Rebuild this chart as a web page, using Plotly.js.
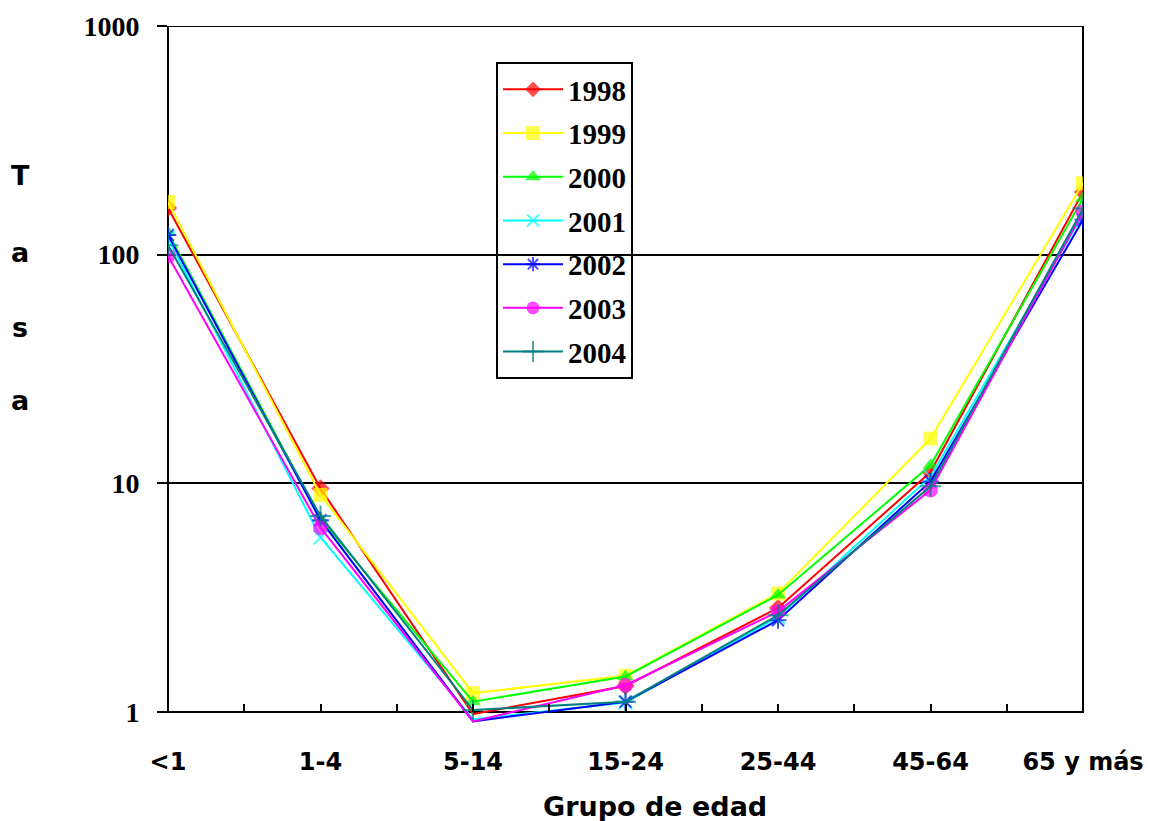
<!DOCTYPE html>
<html>
<head>
<meta charset="utf-8">
<script src="https://cdn.plot.ly/plotly-3.0.1.min.js"></script>
<style>html,body{margin:0;padding:0;background:#fff;}#chart{width:1164px;height:821px;}</style>
</head>
<body>
<div id="chart"></div>
<script>
// ---- data ----
const categories = ['<1', '1-4', '5-14', '15-24', '25-44', '45-64', '65 y más'];
const years = ['1998', '1999', '2000', '2001', '2002', '2003', '2004'];
const y1998 = [160, 9.5, 0.98, 1.30, 2.85, 11.2, 188];
const y1999 = [170, 8.9, 1.21, 1.44, 3.30, 15.7, 205];
const y2000 = [125, 7.0, 1.11, 1.43, 3.25, 12.0, 176];
const y2001 = [118, 5.8, 0.93, 1.10, 2.60, 10.7, 150];
const y2002 = [122, 6.9, 0.91, 1.11, 2.52, 10.2, 142];
const y2003 = [99, 6.4, 0.91, 1.31, 2.75, 9.35, 154];
const y2004 = [110, 7.2, 1.02, 1.11, 2.65, 9.7, 159];
const yTickVals = [1, 10, 100, 1000];

const series = [y1998, y1999, y2000, y2001, y2002, y2003, y2004];
const colors = ['#FF0000', '#FFFF00', '#00FF00', '#00FFFF', '#0000FF', '#FF00FF', '#008080'];
const symbols = ['diamond', 'square', 'triangle-up', 'x-thin-open', 'asterisk-open', 'circle', 'cross-thin-open'];
const sizes = [14, 14, 14, 14, 14, 15, 15];

// geometry
const W = 1164, H = 821;
const L = 168, R = 1083, T = 26, B = 727;
const yLow = 0.86; // axis extends a little below 1 so lines can dip under the x axis
const pxX = x => (x - L) / (R - L);
const pxY = y => (B - y) / (B - T);
const axisPos = (0 - Math.log10(yLow)) / (3 - Math.log10(yLow));

const xIdx = categories.map((c, i) => i);
const tickVals = [], tickText = [];
categories.forEach((c, i) => {
  tickVals.push(i); tickText.push(c);
  if (i < categories.length - 1) { tickVals.push(i + 0.5); tickText.push(''); }
});

const traces = series.map((ys, k) => ({
  x: xIdx,
  y: ys,
  type: 'scatter',
  mode: 'lines+markers',
  name: years[k],
  legendgroup: 'g' + k,
  line: {color: colors[k], width: 2},
  marker: {
    symbol: symbols[k],
    size: ys.map(v => (v >= 1 ? sizes[k] : 0)),
    color: colors[k],
    line: {color: colors[k], width: (symbols[k].indexOf('open') >= 0 ? 2 : 0)}
  },
  hoverinfo: 'x+y+name'
}));

const annY = ['T', 'a', 's', 'a'];
const annYpos = [176, 252, 327, 400];
const annotations = annY.map((t, i) => ({
  text: t, xref: 'paper', yref: 'paper', x: pxX(20), y: pxY(annYpos[i]),
  xanchor: 'center', yanchor: 'middle', showarrow: false,
  font: {family: 'DejaVu Sans', size: 27, color: '#000', weight: 'bold'}
}));
annotations.push({
  text: '<b>Grupo de edad</b>', xref: 'paper', yref: 'paper', x: pxX(655), y: pxY(806),
  xanchor: 'center', yanchor: 'middle', showarrow: false,
  font: {family: 'DejaVu Sans', size: 27, color: '#000'}
});

const layout = {
  width: W, height: H,
  margin: {l: L, r: W - R, t: T, b: H - B, pad: 0},
  paper_bgcolor: '#fff', plot_bgcolor: 'rgba(0,0,0,0)',
  showlegend: true,
  legend: {
    x: pxX(496), y: pxY(62), xanchor: 'left', yanchor: 'top',
    bgcolor: 'rgba(0,0,0,0)', bordercolor: '#000', borderwidth: 2,
    font: {family: 'Liberation Serif', size: 29, color: '#000', weight: 'bold'},
    traceorder: 'grouped', tracegroupgap: 3,
    itemwidth: 60
  },
  xaxis: {
    type: 'linear', range: [0, categories.length - 1],
    anchor: 'free', position: axisPos,
    tickmode: 'array', tickvals: tickVals, ticktext: tickText,
    ticks: 'inside', ticklen: 8, tickwidth: 2, tickcolor: '#000',
    ticklabelstandoff: 33,
    tickfont: {family: 'DejaVu Sans', size: 24, color: '#000', weight: 'bold'},
    showline: false, showgrid: false, zeroline: false, fixedrange: true
  },
  yaxis: {
    type: 'log', range: [Math.log10(yLow), 3],
    tickmode: 'array', tickvals: yTickVals, ticktext: yTickVals.map(String),
    ticks: 'outside', ticklen: 10, tickwidth: 2, tickcolor: '#000',
    ticklabelstandoff: 12,
    tickfont: {family: 'Liberation Serif', size: 28, color: '#000', weight: 'bold'},
    showgrid: true, gridcolor: '#000', gridwidth: 2,
    showline: false, zeroline: false, fixedrange: true
  },
  shapes: [{
    type: 'rect', xref: 'paper', yref: 'y', x0: 0, x1: 1, y0: 1, y1: 1000,
    line: {color: '#000', width: 2}, fillcolor: 'rgba(0,0,0,0)', layer: 'below'
  }],
  annotations: annotations
};

Plotly.newPlot('chart', traces, layout, {displayModeBar: false, staticPlot: true});
</script>
</body>
</html>
